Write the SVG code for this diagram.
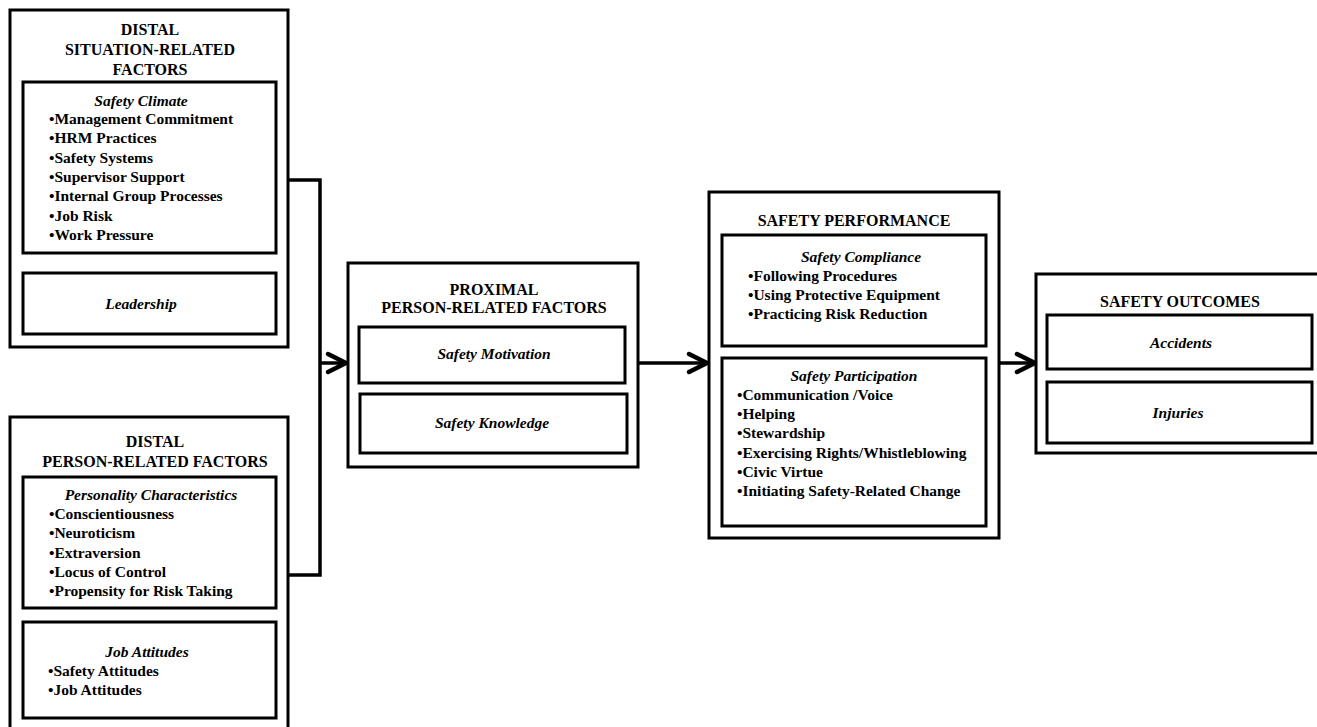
<svg xmlns="http://www.w3.org/2000/svg" width="1317" height="727" viewBox="0 0 1317 727">
<defs>
<style>
.box{fill:#fff;stroke:#000;stroke-width:3}
.inner{fill:none;stroke:#000;stroke-width:3}
.t{font-family:"Liberation Serif","Times New Roman",serif;font-weight:bold;font-size:16px;fill:#000;text-anchor:middle}
.h{font-family:"Liberation Serif","Times New Roman",serif;font-weight:bold;font-style:italic;font-size:15.5px;fill:#000;text-anchor:middle}
.i{font-family:"Liberation Serif","Times New Roman",serif;font-weight:bold;font-size:15.5px;fill:#000}
.c{fill:none;stroke:#000;stroke-width:3.5}
</style>
<marker id="arr" viewBox="0 0 22 22" refX="20" refY="11" markerWidth="22" markerHeight="22" markerUnits="userSpaceOnUse" orient="auto" overflow="visible">
<path d="M2,2 L20,11 L2,20" fill="none" stroke="#000" stroke-width="4.5" stroke-linecap="round" stroke-linejoin="round"/>
</marker>
</defs>
<rect width="1317" height="727" fill="#fff"/>

<g id="connectors">
<path class="c" d="M288,180 H320 V575 H288"/>
<line class="c" x1="320" y1="363" x2="346" y2="363" marker-end="url(#arr)"/>
<line class="c" x1="638" y1="363" x2="707" y2="363" marker-end="url(#arr)"/>
<line class="c" x1="999" y1="363" x2="1035" y2="363" marker-end="url(#arr)"/>
</g>

<g id="distal-situation">
<rect class="box" x="10" y="10" width="278" height="337"/>
<text class="t" x="150" y="35">DISTAL</text>
<text class="t" x="150" y="55">SITUATION-RELATED</text>
<text class="t" x="150" y="75">FACTORS</text>
<g id="safety-climate">
<rect class="inner" x="23" y="82" width="253" height="171"/>
<text class="h" x="141" y="106">Safety Climate</text>
<text class="i" x="49" y="124">•Management Commitment</text>
<text class="i" x="49" y="143.3">•HRM Practices</text>
<text class="i" x="49" y="162.6">•Safety Systems</text>
<text class="i" x="49" y="181.9">•Supervisor Support</text>
<text class="i" x="49" y="201.2">•Internal Group Processes</text>
<text class="i" x="49" y="220.5">•Job Risk</text>
<text class="i" x="49" y="239.8">•Work Pressure</text>
</g>
<g id="leadership">
<rect class="inner" x="23" y="273" width="253" height="61"/>
<text class="h" x="141" y="309">Leadership</text>
</g>
</g>

<g id="distal-person">
<rect class="box" x="10" y="417" width="278" height="330"/>
<text class="t" x="155" y="447">DISTAL</text>
<text class="t" x="155" y="467">PERSON-RELATED FACTORS</text>
<g id="personality">
<rect class="inner" x="23" y="477" width="253" height="131"/>
<text class="h" x="151" y="500">Personality Characteristics</text>
<text class="i" x="49" y="519">•Conscientiousness</text>
<text class="i" x="49" y="538.3">•Neuroticism</text>
<text class="i" x="49" y="557.6">•Extraversion</text>
<text class="i" x="49" y="576.9">•Locus of Control</text>
<text class="i" x="49" y="596.2">•Propensity for Risk Taking</text>
</g>
<g id="job-attitudes">
<rect class="inner" x="23" y="622" width="253" height="96"/>
<text class="h" x="147" y="657">Job Attitudes</text>
<text class="i" x="48" y="676">•Safety Attitudes</text>
<text class="i" x="48" y="695">•Job Attitudes</text>
</g>
</g>

<g id="proximal-person">
<rect class="box" x="348" y="263" width="290" height="204"/>
<text class="t" x="494" y="295">PROXIMAL</text>
<text class="t" x="494" y="313">PERSON-RELATED FACTORS</text>
<g id="safety-motivation">
<rect class="inner" x="359" y="327" width="266" height="56"/>
<text class="h" x="494" y="359">Safety Motivation</text>
</g>
<g id="safety-knowledge">
<rect class="inner" x="360" y="394" width="267" height="59"/>
<text class="h" x="492" y="428">Safety Knowledge</text>
</g>
</g>

<g id="safety-performance">
<rect class="box" x="709" y="192" width="290" height="346"/>
<text class="t" x="854" y="226">SAFETY PERFORMANCE</text>
<g id="safety-compliance">
<rect class="inner" x="722" y="235" width="264" height="111"/>
<text class="h" x="861" y="262">Safety Compliance</text>
<text class="i" x="748" y="281">•Following Procedures</text>
<text class="i" x="748" y="300">•Using Protective Equipment</text>
<text class="i" x="748" y="318.5">•Practicing Risk Reduction</text>
</g>
<g id="safety-participation">
<rect class="inner" x="722" y="358" width="264" height="168"/>
<text class="h" x="854" y="381">Safety Participation</text>
<text class="i" x="737" y="400">•Communication /Voice</text>
<text class="i" x="737" y="419">•Helping</text>
<text class="i" x="737" y="438">•Stewardship</text>
<text class="i" x="737" y="457.5">•Exercising Rights/Whistleblowing</text>
<text class="i" x="737" y="477">•Civic Virtue</text>
<text class="i" x="737" y="496">•Initiating Safety-Related Change</text>
</g>
</g>

<g id="safety-outcomes">
<rect class="box" x="1036" y="274" width="300" height="179"/>
<text class="t" x="1180" y="307">SAFETY OUTCOMES</text>
<g id="accidents">
<rect class="inner" x="1047" y="315" width="265" height="54"/>
<text class="h" x="1181" y="348">Accidents</text>
</g>
<g id="injuries">
<rect class="inner" x="1047" y="382" width="265" height="61"/>
<text class="h" x="1178" y="418">Injuries</text>
</g>
</g>
</svg>
